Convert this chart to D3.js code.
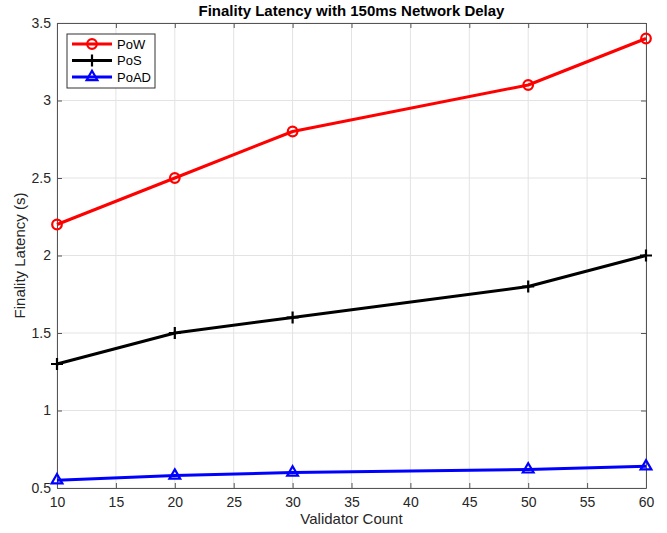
<!DOCTYPE html>
<html>
<head>
<meta charset="utf-8">
<script src="https://cdn.jsdelivr.net/npm/d3@7"></script>
<style>
  html, body { margin: 0; padding: 0; background: #fff; overflow: hidden; }
  svg { display: block; }
  text { font-family: "Liberation Sans", Arial, sans-serif; }
</style>
</head>
<body>
<svg id="fig"></svg>
<script>
// data
const validators = [10, 20, 30, 50, 60];
const pow = [2.2, 2.5, 2.8, 3.1, 3.4];
const pos = [1.3, 1.5, 1.6, 1.8, 2.0];
const poad = [0.55, 0.58, 0.60, 0.62, 0.64];
const seriesNames = ['PoW', 'PoS', 'PoAD'];
const xTicks = [10, 15, 20, 25, 30, 35, 40, 45, 50, 55, 60];
const yTicks = [0.5, 1, 1.5, 2, 2.5, 3, 3.5];

const width = 667, height = 533;
const margin = { top: 23, right: 21, bottom: 45, left: 57 };
const innerWidth = width - margin.left - margin.right;
const innerHeight = height - margin.top - margin.bottom;

const svg = d3.select('#fig').attr('width', width).attr('height', height);
const g = svg.append('g').attr('transform', `translate(${margin.left},${margin.top})`);

const xScale = d3.scaleLinear().domain([10, 60]).range([0, innerWidth]);
const yScale = d3.scaleLinear().domain([0.5, 3.5]).range([innerHeight, 0]);

// grid
g.append('g').selectAll('line').data(xTicks).enter().append('line')
    .attr('x1', d => xScale(d)).attr('x2', d => xScale(d))
    .attr('y1', 0).attr('y2', innerHeight)
    .attr('stroke', '#e3e3e3').attr('stroke-width', 1);
g.append('g').selectAll('line').data(yTicks).enter().append('line')
    .attr('y1', d => yScale(d)).attr('y2', d => yScale(d))
    .attr('x1', 0).attr('x2', innerWidth)
    .attr('stroke', '#e3e3e3').attr('stroke-width', 1);

// axes, matlab style: inward ticks
const axisColor = '#262626';
const xAxis = g.append('g').attr('transform', `translate(0,${innerHeight})`)
    .call(d3.axisBottom(xScale).tickValues(xTicks).tickSizeInner(-5).tickSizeOuter(0).tickPadding(9));
const xAxisTop = g.append('g')
    .call(d3.axisTop(xScale).tickValues(xTicks).tickSizeInner(-5).tickSizeOuter(0));
const yAxis = g.append('g')
    .call(d3.axisLeft(yScale).tickValues(yTicks).tickSizeInner(-5).tickSizeOuter(0).tickPadding(6).tickFormat(d3.format('')));
const yAxisRight = g.append('g').attr('transform', `translate(${innerWidth},0)`)
    .call(d3.axisRight(yScale).tickValues(yTicks).tickSizeInner(-5).tickSizeOuter(0));
// the mirrored axes only carry tick marks
xAxisTop.selectAll('.tick text').remove();
yAxisRight.selectAll('.tick text').remove();
[xAxis, xAxisTop, yAxis, yAxisRight].forEach(a => {
    a.select('.domain').attr('stroke', '#555').attr('stroke-width', 1);
    a.selectAll('.tick line').attr('stroke', '#555');
    a.selectAll('.tick text').attr('fill', axisColor).style('font-size', '14px')
        .style('font-family', '"Liberation Sans", Arial, sans-serif');
});

// series
const series = [
    { name: seriesNames[0], values: pow, color: '#ff0000', marker: 'circle' },
    { name: seriesNames[1], values: pos, color: '#000000', marker: 'plus' },
    { name: seriesNames[2], values: poad, color: '#0000ff', marker: 'triangle' }
];

const line = d3.line().x(d => xScale(d[0])).y(d => yScale(d[1]));

function drawMarker(sel, type, color) {
    if (type === 'circle') {
        sel.append('circle').attr('r', 4.8).attr('fill', 'none')
            .attr('stroke', color).attr('stroke-width', 2.2);
    } else if (type === 'plus') {
        sel.append('path').attr('d', 'M-6,0H6M0,-6V6')
            .attr('stroke', color).attr('stroke-width', 2.2);
    } else {
        sel.append('path').attr('d', d3.symbol().type(d3.symbolTriangle).size(50)())
            .attr('fill', 'none').attr('stroke', color).attr('stroke-width', 2.2);
    }
}

series.forEach(s => {
    const pts = validators.map((v, i) => [v, s.values[i]]);
    g.append('path').datum(pts).attr('d', line)
        .attr('fill', 'none').attr('stroke', s.color).attr('stroke-width', 3)
        .attr('stroke-linejoin', 'round');
    g.append('g').selectAll('g').data(pts).enter().append('g')
        .attr('transform', d => `translate(${xScale(d[0])},${yScale(d[1])})`)
        .each(function () { drawMarker(d3.select(this), s.marker, s.color); });
});

// legend
const legend = svg.append('g').attr('transform', 'translate(67,34)');
legend.append('rect').attr('width', 88).attr('height', 54)
    .attr('fill', '#fff').attr('stroke', '#333').attr('stroke-width', 1);
series.forEach((s, i) => {
    const row = legend.append('g').attr('transform', `translate(0,${10 + i * 16.5})`);
    row.append('line').attr('x1', 5).attr('x2', 45).attr('y1', 0).attr('y2', 0)
        .attr('stroke', s.color).attr('stroke-width', 3);
    drawMarker(row.append('g').attr('transform', 'translate(25,0)'), s.marker, s.color);
    row.append('text').attr('x', 50).attr('y', 4.5).text(s.name)
        .style('font-size', '13px').attr('fill', '#000');
});

// title and labels
svg.append('text').attr('x', margin.left + innerWidth / 2).attr('y', 16)
    .attr('text-anchor', 'middle').style('font-size', '15px').style('font-weight', 'bold')
    .attr('fill', '#000').text('Finality Latency with 150ms Network Delay');
svg.append('text').attr('x', margin.left + innerWidth / 2).attr('y', 524)
    .attr('text-anchor', 'middle').style('font-size', '15px').attr('fill', axisColor)
    .text('Validator Count');
svg.append('text')
    .attr('transform', `translate(25,${margin.top + innerHeight / 2}) rotate(-90)`)
    .attr('text-anchor', 'middle').style('font-size', '15px').attr('fill', axisColor)
    .text('Finality Latency (s)');
</script>
</body>
</html>
